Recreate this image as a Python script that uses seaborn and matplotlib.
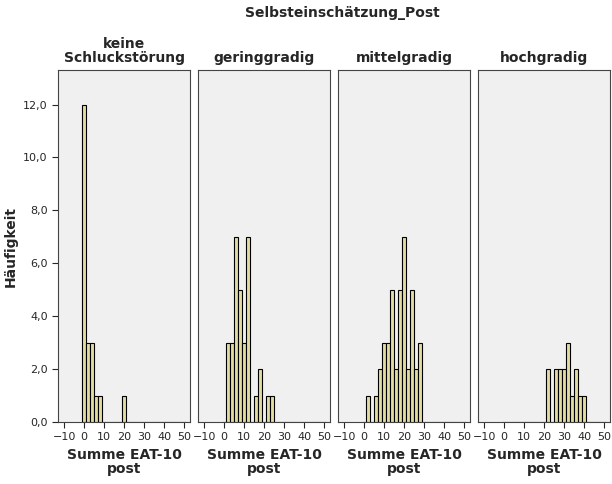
import matplotlib.pyplot as plt
import numpy as np
import pandas as pd
import seaborn as sns
from matplotlib.ticker import FuncFormatter

groups = ["keine\nSchluckstörung", "geringgradig", "mittelgradig", "hochgradig"]
# bin centres (width 2) and counts per group
centres_keine = [0, 2, 4, 6, 8, 20]
counts_keine = [12, 3, 3, 1, 1, 1]
centres_gering = [2, 4, 6, 8, 10, 12, 16, 18, 22, 24]
counts_gering = [3, 3, 7, 5, 3, 7, 1, 2, 1, 1]
centres_mittel = [2, 6, 8, 10, 12, 14, 16, 18, 20, 22, 24, 26, 28]
counts_mittel = [1, 1, 2, 3, 3, 5, 2, 5, 7, 2, 5, 2, 3]
centres_hoch = [22, 26, 28, 30, 32, 34, 36, 38, 40]
counts_hoch = [2, 2, 2, 2, 3, 1, 2, 1, 1]

all_centres = [centres_keine, centres_gering, centres_mittel, centres_hoch]
all_counts = [counts_keine, counts_gering, counts_mittel, counts_hoch]

sns.set_style("white")
plt.rcParams['font.family'] = ['DejaVu Sans']

fig, axs = plt.subplots(1, 4, figsize=(6.12, 4.84), dpi=100, sharey=True)
fig.subplots_adjust(left=0.095, right=0.997, top=0.855, bottom=0.128, wspace=0.06)

for i, ax in enumerate(axs):
    df = pd.DataFrame({"x": all_centres[i], "n": all_counts[i]})
    sns.histplot(data=df, x="x", weights="n", binwidth=2, binrange=(-1, 51), ax=ax,
                 color="#e3dca0", edgecolor="black", linewidth=0.8, alpha=1)
    ax.set_facecolor("#f0f0f0")
    ax.set_xlim(-13, 53)
    ax.set_ylim(0, 13.3)
    ax.set_xticks(range(-10, 51, 10))
    ax.tick_params(axis="both", labelsize=8, length=4, direction="out", left=(i == 0), bottom=True)
    ax.set_yticks(range(0, 13, 2))
    ax.yaxis.set_major_formatter(FuncFormatter(lambda v, p: f"{v:.1f}".replace(".", ",")))
    for s in ax.spines.values():
        s.set_color("#444444")
    ax.set_title(groups[i], fontsize=10, fontweight="bold", linespacing=1.0)
    ax.set_xlabel("Summe EAT-10\npost", fontsize=10, fontweight="bold", linespacing=1.0)
    ax.set_ylabel("Häufigkeit" if i == 0 else "", fontsize=10, fontweight="bold")

fig.text(0.56, 0.965, "Selbsteinschätzung_Post", ha="center", fontsize=10, fontweight="bold")
fig.savefig("out.png", dpi=100)
